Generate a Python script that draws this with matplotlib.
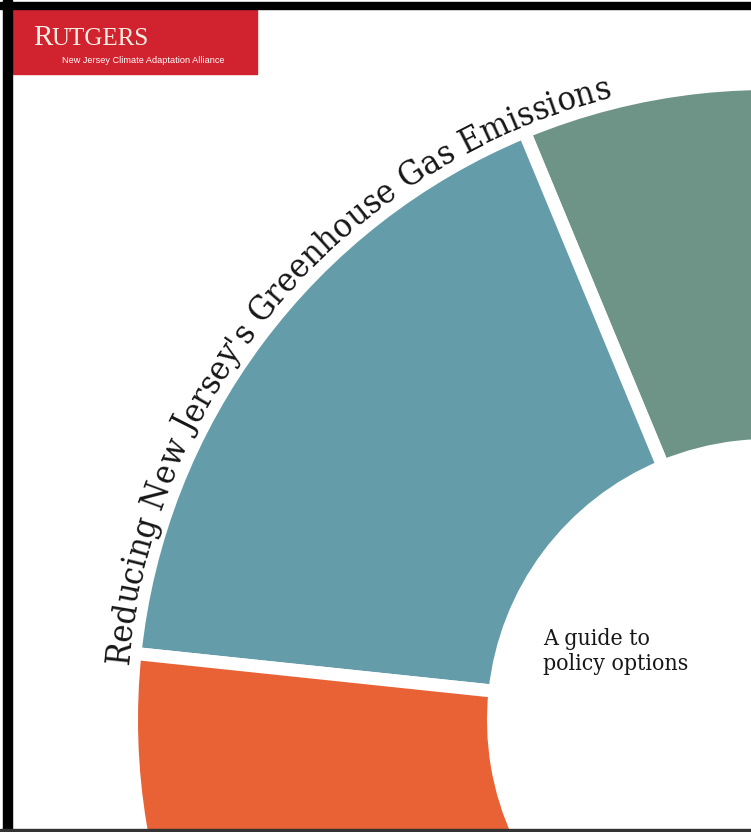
import numpy as np
import matplotlib
matplotlib.use("Agg")
import matplotlib.pyplot as plt
from matplotlib import font_manager
from matplotlib.font_manager import FontProperties
from matplotlib.ft2font import FT2Font
from matplotlib.patches import Rectangle

W, H = 751, 832  # figure size in pixels, axes use pixel units (y up)

# ring sectors, degrees counter-clockwise starting at ring_start
sector_spans = [32.5, 61.5, 31.0]
sector_colors = ["#6E9387", "#649DA9", "#E86235"]
ring_start = 80.0

title = "Reducing New Jersey's Greenhouse Gas Emissions"
guide_lines = ["A guide to", "policy options"]
logo_main = "RUTGERS"
logo_sub = "New Jersey Climate Adaptation Alliance"

# ring geometry (pixels)
cx, cy = 768, H - 720
r_outer, r_inner = 630, 281
gap = 13  # white gap between sectors, px
px_to_pt = 72 / 100.0


def advances(text, fp, size_pt):
    # horizontal advance of each character, in pixels
    font = FT2Font(font_manager.findfont(fp))
    font.set_size(size_pt, 72)
    return np.array([font.load_char(ord(c)).linearHoriAdvance / 65536.0
                     for c in text]) / px_to_pt


fig = plt.figure(figsize=(W / 100, H / 100), dpi=100)
ax = fig.add_axes([0, 0, 1, 1])

ax.pie(np.array(sector_spans) / 360.0, colors=sector_colors,
       startangle=ring_start, counterclock=True, normalize=False,
       center=(cx, cy), radius=r_outer + gap / 2,
       wedgeprops=dict(width=r_outer - r_inner + gap,
                       edgecolor="white", linewidth=gap * px_to_pt))

# title along the outer arc
serif = FontProperties(family="DejaVu Serif", stretch="condensed")
r_base = 642
a_start, a_end = np.radians(175.1), np.radians(104.0)
arc_len = (a_start - a_end) * r_base
adv1 = advances(title, serif, 1.0)
title_size = arc_len / adv1.sum()
adv = adv1 * title_size
mids = np.cumsum(adv) - adv / 2
for ch, s in zip(title, mids):
    th = a_start - s / r_base
    ax.text(cx + r_base * np.cos(th), cy + r_base * np.sin(th), ch,
            fontproperties=serif, fontsize=title_size, color="#161616",
            rotation=np.degrees(th) - 90, rotation_mode="anchor",
            ha="center", va="baseline")

# guide text in the middle of the ring
g_adv = advances(guide_lines[1], serif, 1.0)
g_size = 145 / g_adv.sum()
for i, line in enumerate(guide_lines):
    ax.text(543, H - 645 - 25 * i, line, fontproperties=serif,
            fontsize=g_size, color="#161616", ha="left", va="baseline")

# logo block
ax.add_patch(Rectangle((13, H - 74), 244, 64, color="#D1232F", zorder=3))
logo_serif = FontProperties(family="Liberation Serif")
r_w = advances(logo_main[0], logo_serif, 21)[0]
ax.text(33, H - 45, logo_main[0], fontproperties=logo_serif, fontsize=21,
        color="#F7EFE4", va="baseline", ha="left", zorder=4)
ax.text(33 + r_w - 1, H - 45, logo_main[1:], fontproperties=logo_serif,
        fontsize=18, color="#F7EFE4", va="baseline", ha="left", zorder=4)
sans = FontProperties(family="Liberation Sans")
s_adv = advances(logo_sub, sans, 1.0)
ax.text(62, H - 63, logo_sub, fontproperties=sans,
        fontsize=161 / s_adv.sum(), color="white", va="baseline",
        ha="left", zorder=4)

# page frame
ax.add_patch(Rectangle((0, H - 9), W, 7, color="black", zorder=5))
ax.add_patch(Rectangle((3, 0), 9, H, color="black", zorder=5))
ax.add_patch(Rectangle((0, 0), W, 3, color="#333333", zorder=5))

ax.set_aspect("auto")
ax.set_xlim(0, W)
ax.set_ylim(0, H)
ax.axis("off")

fig.savefig("out.png", dpi=100)
